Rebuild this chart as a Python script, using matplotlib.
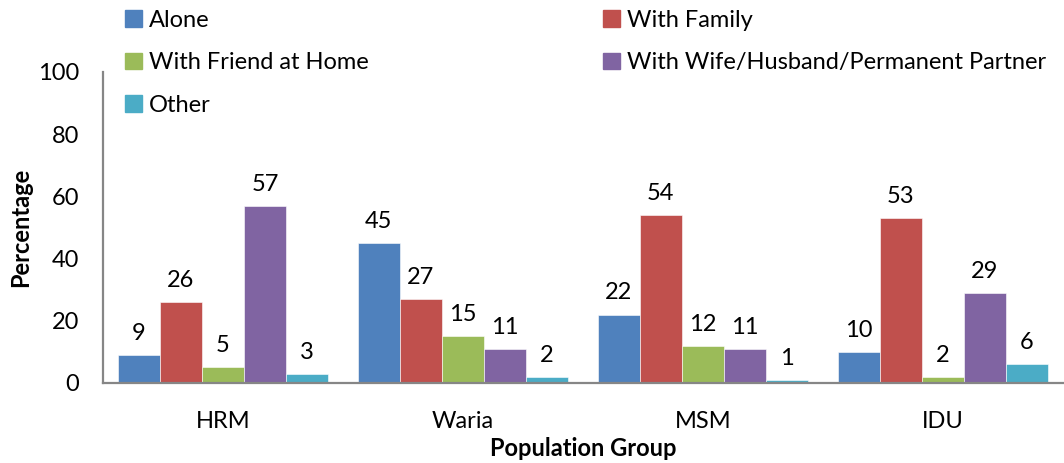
import numpy as np
import matplotlib
matplotlib.use('Agg')
import matplotlib.pyplot as plt
from matplotlib.patches import Patch

plt.rcParams['font.family'] = ['Lato', 'DejaVu Sans']

groups = ['HRM', 'Waria', 'MSM', 'IDU']
series = ['Alone', 'With Family', 'With Friend at Home',
          'With Wife/Husband/Permanent Partner', 'Other']
alone = [9, 45, 22, 10]
family = [26, 27, 54, 53]
friend = [5, 15, 12, 2]
partner = [57, 11, 11, 29]
other = [3, 2, 1, 6]
colors = ['#4F81BD', '#C0504D', '#9BBB59', '#8064A2', '#4BACC6']

values = [alone, family, friend, partner, other]

fig = plt.figure(figsize=(10.64, 4.63), dpi=100)
ax = fig.add_axes([0.0968, 0.1728, 0.902, 0.6717])

x = np.arange(len(groups))
w = 0.175
for i, (vals, c) in enumerate(zip(values, colors)):
    pos = x + (i - 2) * w
    bars = ax.bar(pos, vals, w, color=c, edgecolor='white', linewidth=0.4)
    for b, v in zip(bars, vals):
        ax.annotate(str(v), (b.get_x() + b.get_width() / 2, v),
                    xytext=(0, 8), textcoords='offset points',
                    ha='center', va='bottom', fontsize=17)

ax.set_xlim(-0.5, 3.5)
ax.set_ylim(0, 100)
ax.set_yticks(range(0, 101, 20))
ax.set_xticks(x)
ax.set_xticklabels(groups)
ax.tick_params(length=0, labelsize=17)
ax.tick_params(axis='y', pad=17)
ax.tick_params(axis='x', pad=20)
for s in ['top', 'right']:
    ax.spines[s].set_visible(False)
for s in ['left', 'bottom']:
    ax.spines[s].set_color('#868686')
    ax.spines[s].set_linewidth(1.6)

ax.set_xlabel('Population Group', fontsize=17, fontweight='bold', labelpad=4)
ax.set_ylabel('Percentage', fontsize=17, fontweight='bold', labelpad=4)

handles = [Patch(color=c) for c in colors]
leg_kw = dict(frameon=False, loc='upper left', fontsize=17, borderpad=0,
              handlelength=0.7, handleheight=0.7, handletextpad=0.3,
              labelspacing=0.9, borderaxespad=0)
fig.legend([handles[0], handles[2], handles[4]],
           [series[0], series[2], series[4]],
           bbox_to_anchor=(125 / 1064, 1 - 10 / 463), **leg_kw)
fig.legend([handles[1], handles[3]], [series[1], series[3]],
           bbox_to_anchor=(603 / 1064, 1 - 10 / 463), **leg_kw)

fig.savefig('out.png', dpi=100)
